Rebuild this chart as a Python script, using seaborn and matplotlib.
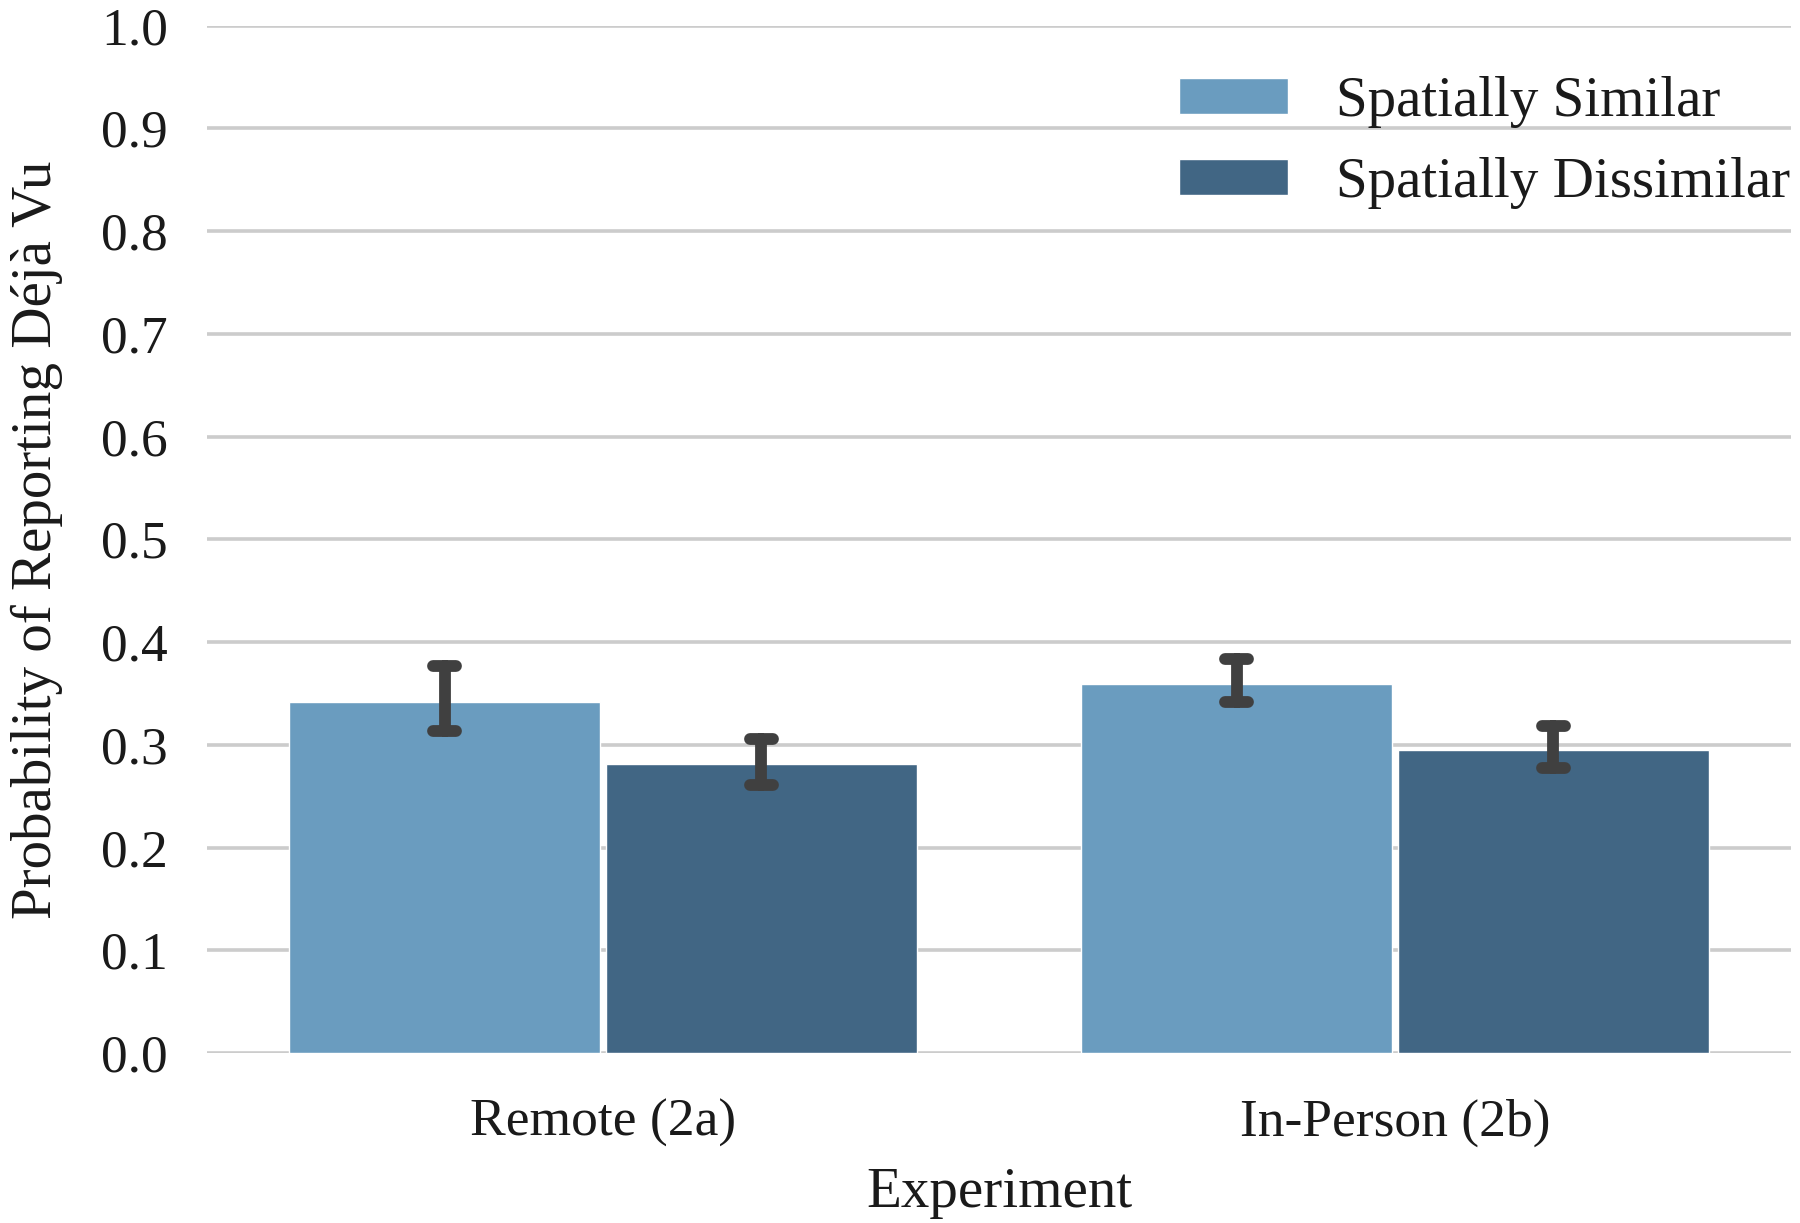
import matplotlib
matplotlib.use("Agg")
import matplotlib.pyplot as plt
import seaborn as sns
import pandas as pd

experiments = ["Remote (2a)", "Remote (2a)", "In-Person (2b)", "In-Person (2b)"]
conditions = ["Spatially Similar", "Spatially Dissimilar", "Spatially Similar", "Spatially Dissimilar"]
means = [0.342, 0.281, 0.359, 0.295]
err_low = [0.313, 0.261, 0.342, 0.277]
err_high = [0.377, 0.306, 0.384, 0.318]
colors = ["#6a9cbf", "#416684"]
yticks = [0.0, 0.1, 0.2, 0.3, 0.4, 0.5, 0.6, 0.7, 0.8, 0.9, 1.0]

rows = []
for e, c, m, lo, hi in zip(experiments, conditions, means, err_low, err_high):
    for v in (lo, m, hi):
        rows.append({"Experiment": e, "Condition": c, "p": v})
df = pd.DataFrame(rows)

sns.set_style("whitegrid")
plt.rcParams["font.family"] = ["Liberation Serif", "DejaVu Serif"]
plt.rcParams["text.color"] = "#1a1a1a"

fig = plt.figure(figsize=(18, 12.23), dpi=100)
ax = fig.add_axes([0.115, 0.139, 0.88, 0.840])

sns.barplot(data=df, x="Experiment", y="p", hue="Condition",
            order=["Remote (2a)", "In-Person (2b)"],
            hue_order=["Spatially Similar", "Spatially Dissimilar"],
            palette=colors, estimator="median", errorbar=("pi", 100),
            capsize=0.06, gap=0.02, saturation=1,
            err_kws={"color": "#404040", "linewidth": 8.5, "solid_capstyle": "round"},
            ax=ax)

ax.set_ylim(0, 1.0)
ax.set_xlim(-0.5, 1.5)
ax.set_yticks(yticks)
ax.set_yticklabels([f"{t:.1f}" for t in yticks])
ax.grid(axis="y", color="#cccccc", linewidth=2.6)
ax.grid(axis="x", visible=False)
for s in ax.spines.values():
    s.set_visible(False)
ax.tick_params(axis="both", labelsize=38.5, colors="#1a1a1a", length=0)
ax.tick_params(axis="y", pad=28)
ax.tick_params(axis="x", pad=33)
ax.set_xlabel("Experiment", fontsize=41, color="#1a1a1a")
ax.set_ylabel("Probability of Reporting Déjà Vu", fontsize=41, color="#1a1a1a")
ax.yaxis.set_label_coords(-0.091, 0.5)
ax.xaxis.set_label_coords(0.5, -0.111)

leg = ax.legend(loc="upper right", frameon=False, fontsize=41,
                handlelength=1.92, handleheight=0.6, handletextpad=0.85,
                labelspacing=0.5, borderaxespad=0,
                bbox_to_anchor=(1.014, 0.973))

fig.savefig("out.png", dpi=100)
